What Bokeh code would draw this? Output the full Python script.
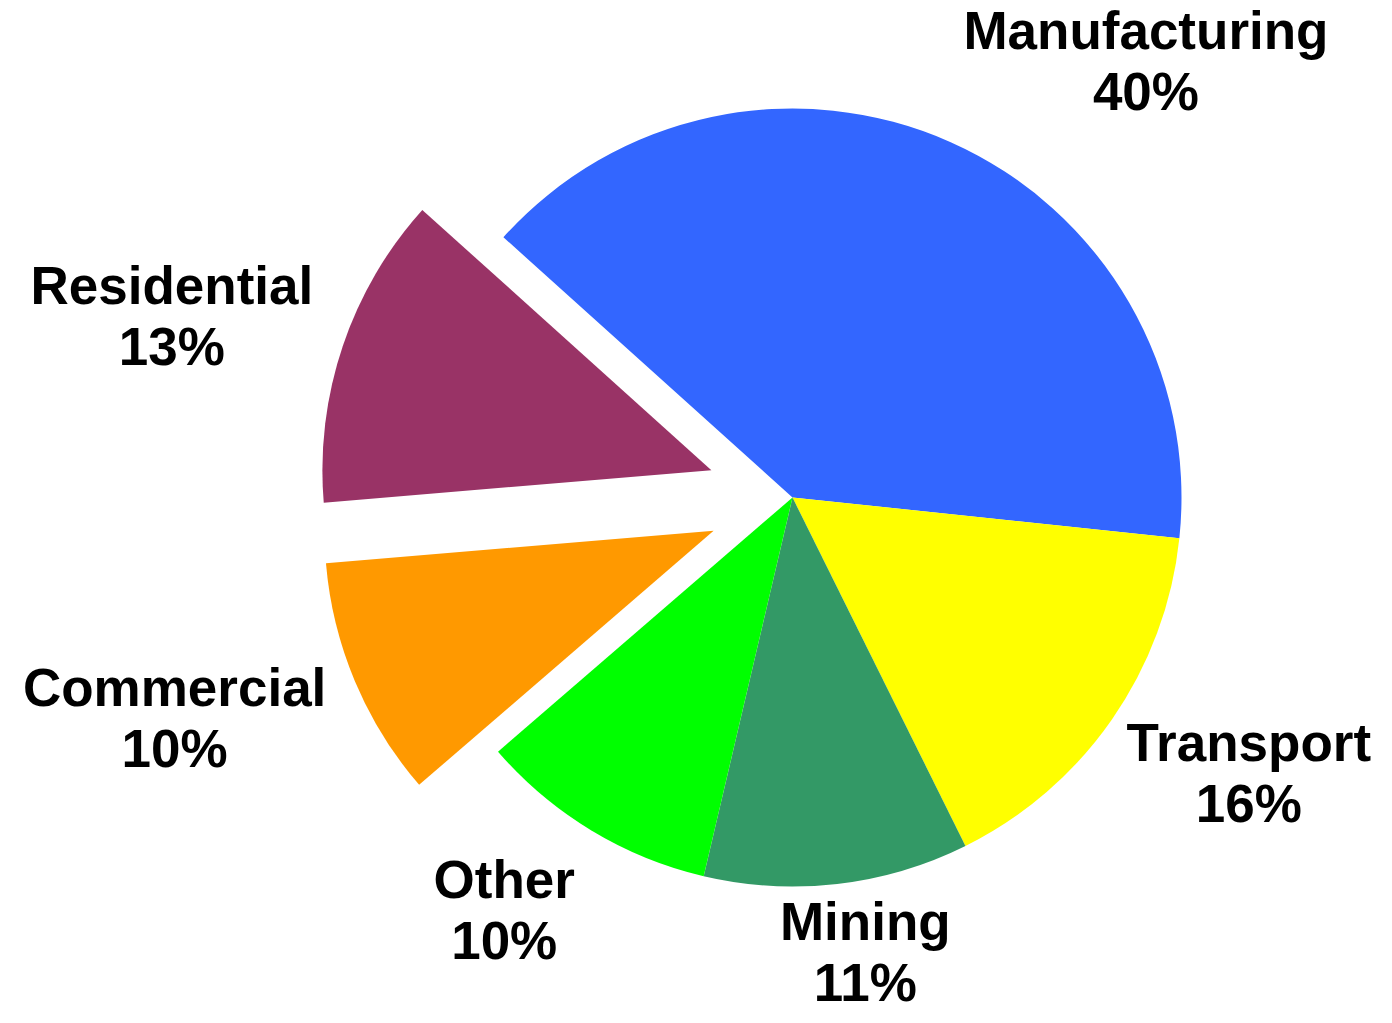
import numpy as np
from bokeh.plotting import figure
from bokeh.models import Range1d, ColumnDataSource
from bokeh.embed import file_html
from bokeh.resources import INLINE
from bokeh.core.properties import value

# ---- data ----
categories = ["Manufacturing", "Transport", "Mining", "Other", "Commercial", "Residential"]
shares = [40, 16, 11, 10, 10, 13]
pct_labels = ["40%", "16%", "11%", "10%", "10%", "13%"]
colors = ["#3366FF", "#FFFF00", "#339966", "#00FF00", "#FF9900", "#993366"]
explode = [0, 0, 0, 0, 0.22, 0.22]

# ---- layout ----
W, H = 1376, 1015
CX, CY = 792, H - 497
R = 389
START_DEG = 138.0
FS = 53
LINE = 61

# Arial/Liberation Sans Bold advance widths (per 1000 em)
CW = {"M": 833, "a": 556, "n": 611, "u": 611, "f": 333, "c": 556, "t": 333, "r": 389,
      "i": 278, "g": 611, "R": 722, "e": 556, "s": 556, "d": 611, "l": 278, "C": 722,
      "o": 611, "m": 889, "T": 611, "p": 611, "O": 778, "h": 611, "%": 889}


def text_w(s):
    return sum(CW.get(ch, 556) for ch in s) / 1000.0 * FS


total = float(sum(shares))
a = START_DEG
wx, wy, st, en = [], [], [], []
lx, ly = [], []
for cat, sh, pl, ex in zip(categories, shares, pct_labels, explode):
    a0 = a
    a1 = a - sh / total * 360.0
    a = a1
    mid = np.radians((a0 + a1) / 2)
    ox = CX + ex * R * np.cos(mid)
    oy = CY + ex * R * np.sin(mid)
    wx.append(ox); wy.append(oy)
    st.append(np.radians(a1)); en.append(np.radians(a0))
    # label placement, outside end
    ax = ox + 1.08 * R * np.cos(mid)
    ay = oy + 1.07 * R * np.sin(mid)
    w = max(text_w(cat), text_w(pl))
    h = 2 * LINE - 10
    fx = np.clip(2.5 * np.cos(mid), -1, 1)
    fy = np.clip(1.2 * np.sin(mid), -1, 1)
    x_c = ax + w / 2 * fx
    y_c = ay + h / 2 * fy
    # keep the label block inside the canvas
    x_c = min(max(x_c, w / 2 + 4), W - w / 2 - 4)
    y_c = max(y_c, LINE / 2 + FS * 0.62)
    lx.append(x_c)
    ly.append(y_c)

wedges = ColumnDataSource(dict(x=wx, y=wy, s=st, e=en, c=colors))
names = ColumnDataSource(dict(x=lx, y=[v + LINE / 2 for v in ly], t=categories))
pcts = ColumnDataSource(dict(x=lx, y=[v - LINE / 2 for v in ly], t=pct_labels))

p = figure(width=W, height=H, x_range=Range1d(0, W), y_range=Range1d(0, H),
           output_backend="svg", toolbar_location=None, min_border=0)
p.axis.visible = False
p.grid.visible = False
p.outline_line_color = None
p.background_fill_color = "white"

p.wedge(x="x", y="y", radius=R, start_angle="s", end_angle="e", direction="anticlock",
        fill_color="c", line_color=None, source=wedges)

for src in (names, pcts):
    p.text(x="x", y="y", text="t", source=src, text_font=value("Liberation Sans"),
           text_font_style="bold", text_font_size=f"{FS}px", text_align="center",
           text_baseline="middle", text_color="black")

open("out.html", "w").write(file_html(p, INLINE))
